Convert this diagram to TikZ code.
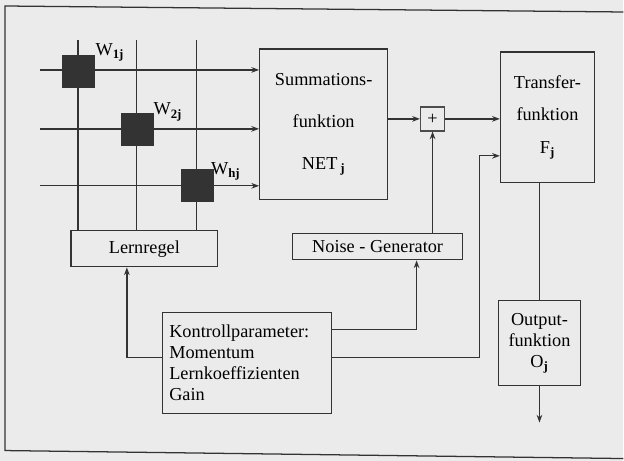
\documentclass[tikz,border=0pt]{standalone}
\usepackage{fontspec}
\setmainfont{Liberation Serif}
\usepackage{tikz}
\usetikzlibrary{arrows.meta,positioning}

\begin{document}
\begin{tikzpicture}[x=0.025cm,y=-0.025cm,>={Stealth[length=5.5pt,width=4pt]},
    font=\fontsize{13}{15}\selectfont,
    box/.style={draw=black!80,line width=0.9pt,inner sep=2pt,align=center},
    wsq/.style={fill=black!80,draw=black!80,minimum size=0.8cm,inner sep=0pt},
    wire/.style={draw=black!80,line width=0.9pt}]
    % Page and frame
    \fill[black!8] (0,0) rectangle (624,461);
    \draw[black!80,line width=0.9pt] (624,12) -- (5,6) -- (5,451) -- (624,459);

    % Function blocks
    \node[box,minimum width=3.2cm,minimum height=3.775cm] (summ) at (324,124.5)
        {Summations-\\[15pt]funktion\\[15pt]NET\,\textsubscript{\textbf{j}}};
    \node[box,minimum width=2.35cm,minimum height=3.275cm] (trans) at (548,117.5)
        {Transfer-\\[8pt]funktion\\[8pt]F\textsubscript{\textbf{j}}};
    \node[box,minimum width=2.05cm,minimum height=2.125cm] (out) at (540,343.5)
        {Output-\\funktion\\O\textsubscript{\textbf{j}}};
    \node[box,draw=black!70,minimum size=0.6cm,inner sep=0pt] (plus) at (433,119) {+};

    % Learning and control
    \node[box,minimum width=3.675cm,minimum height=0.9cm] (lern) at (144.5,249) {Lernregel};
    \node[box,minimum width=4.25cm,minimum height=0.65cm] (noise) at (378,247) {Noise - Generator};
    \node[box,align=left,text width=3.9cm,inner sep=0.1625cm,minimum height=2.525cm] (kontr) at (247.5,363.5)
        {Kontrollparameter:\\Momentum\\Lernkoeffizienten\\Gain};

    % Input grid
    \foreach \x/\n in {78/1,137/2,197/3} {
        \coordinate (top\n) at (\x,40);
        \draw[wire] (top\n) -- (top\n |- lern.north);
    }
    \foreach \y/\n in {70/1,129/2,186/3} {
        \coordinate (in\n) at (40,\y);
        \draw[wire,->] (in\n) -- (in\n -| summ.west);
    }

    % Weights
    \node[wsq] (w1) at (78,71) {};
    \node[wsq] (w2) at (137,129) {};
    \node[wsq] (w3) at (197,185) {};
    \node[inner sep=0pt] (l1) at (110,52) {W\textsubscript{\textbf{1j}}};
    \node[inner sep=0pt] (l2) at (168,112) {W\textsubscript{\textbf{2j}}};
    \node[inner sep=0pt] (l3) at (226,172) {W\textsubscript{\textbf{hj}}};

    % Signal path
    \draw[wire,->] (plus -| summ.east) -- (plus.west);
    \draw[wire,->] (plus.east) -- (plus -| trans.west);
    \draw[wire,->] (noise.north -| plus) -- (plus.south);
    \draw[wire] (out.north |- trans.south) -- (out.north);
    \coordinate (oend) at (540,423);
    \draw[wire,->] (out.south) -- (oend);

    % Control lines
    \coordinate (kn) at (417,330);
    \draw[wire,->] (kontr.east |- kn) -- (kn) -- (kn |- noise.south);
    \coordinate (kt1) at (480,358);
    \coordinate (kt2) at (480,156);
    \draw[wire,->] (kontr.east |- kt1) -- (kt1) -- (kt2) -- (kt2 -| trans.west);
    \coordinate (kl) at (127,358);
    \draw[wire,->] (kontr.west |- kl) -- (kl) -- (kl |- lern.south);
\end{tikzpicture}
\end{document}
